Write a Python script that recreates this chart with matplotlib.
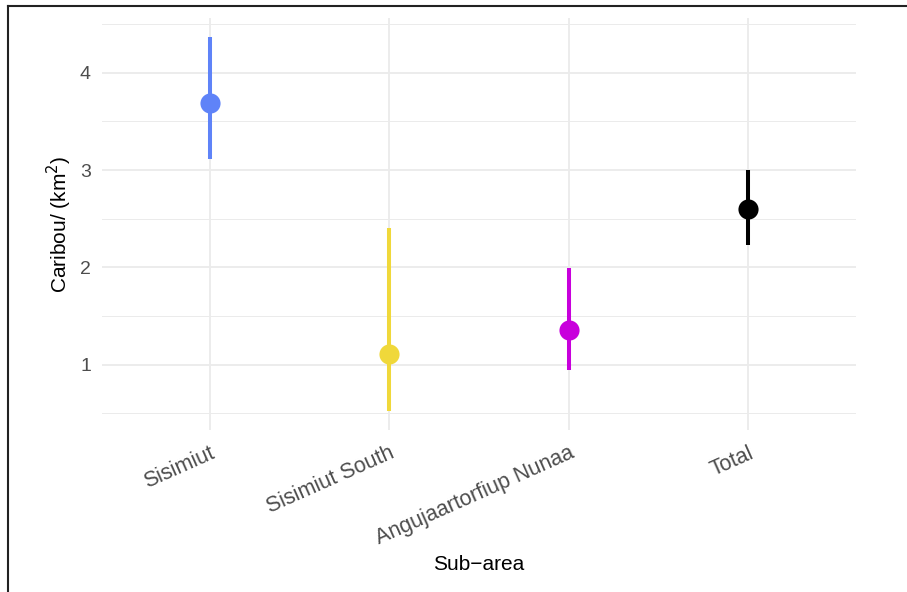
import matplotlib.pyplot as plt
from matplotlib.lines import Line2D
from matplotlib.ticker import MultipleLocator

plt.rcParams['font.family'] = ['Liberation Sans', 'DejaVu Sans']

areas = ['Sisimiut', 'Sisimiut South', 'Angujaartorfiup Nunaa', 'Total']
density = [3.69, 1.11, 1.36, 2.60]
lower = [3.11, 0.52, 0.94, 2.23]
upper = [4.37, 2.40, 1.99, 3.00]
colours = ['#5F83F8', '#F0D83A', '#C800DC', '#000000']

fig = plt.figure(figsize=(9.07, 5.92), dpi=100)
ax = fig.add_axes([102 / 907, 1 - 430 / 592, 754 / 907, 412 / 592])

for i, (m, lo, hi, c) in enumerate(zip(density, lower, upper, colours)):
    ax.vlines(i, lo, hi, color=c, lw=2.9, zorder=3)
    ax.plot(i, m, 'o', color=c, ms=14.5, mec='none', zorder=4)

ax.set_xlim(-0.6, len(areas) - 0.4)
span = max(upper) - min(lower)
ax.set_ylim(min(lower) - 0.05 * span, max(upper) + 0.05 * span)

ax.set_xticks(range(len(areas)))
ax.set_xticklabels(areas, rotation=24, ha='right', va='top',
                   rotation_mode='anchor', fontsize=15.5)
ax.yaxis.set_major_locator(MultipleLocator(1))
ax.yaxis.set_minor_locator(MultipleLocator(0.5))

ax.grid(which='major', color='#EBEBEB', lw=1.3)
ax.grid(which='minor', axis='y', color='#EBEBEB', lw=0.7)
ax.set_axisbelow(True)
ax.tick_params(which='both', length=0, colors='#4D4D4D')
ax.tick_params(axis='y', labelsize=14, pad=8)
ax.tick_params(axis='x', pad=9)
for s in ax.spines.values():
    s.set_visible(False)

ax.set_ylabel('Caribou/ (km$^2$)', fontsize=15, labelpad=4)
ax.set_xlabel('Sub\u2212area', fontsize=15, labelpad=4)

# frame line along the left and top edges
fig.add_artist(Line2D([8 / 907, 8 / 907], [0, 1 - 6 / 592], color='#222222', lw=1.5))
fig.add_artist(Line2D([8 / 907, 1], [1 - 6 / 592, 1 - 6 / 592], color='#222222', lw=1.5))

fig.savefig('out.png', dpi=100)
